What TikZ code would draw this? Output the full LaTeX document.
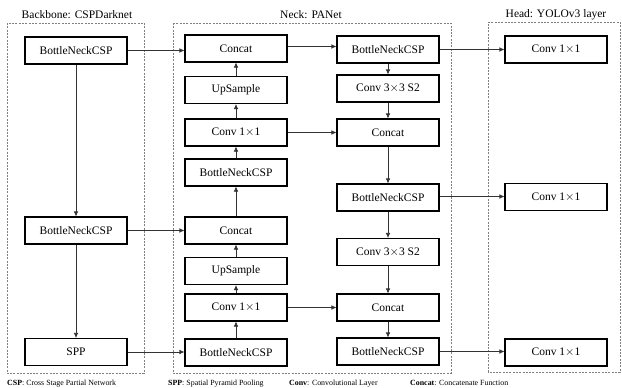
\documentclass[tikz,border=0pt]{standalone}
\usepackage{fontspec}
\setmainfont{Liberation Serif}
\usetikzlibrary{arrows.meta,calc}

\begin{document}
\begin{tikzpicture}[x=1pt,y=-1pt,
    blk/.style={draw,line width=1.1pt,minimum width=102pt,minimum height=27pt,inner sep=0pt,font=\fontsize{11.5}{13}\selectfont},
    grp/.style={draw=gray,line width=0.7pt,dash pattern=on 2pt off 1.3pt},
    ttl/.style={font=\fontsize{11.5}{13}\selectfont},
    legend/.style={font=\fontsize{7.9}{9}\selectfont,anchor=base west,inner sep=0pt},
    arr/.style={-{Latex[length=5pt,width=4.5pt]},line width=0.6pt,draw=black!80}]
            \useasboundingbox (0,0) rectangle (622,388);
            % groups
            \draw[grp] (7,23) rectangle (144,373);
            \draw[grp] (173,23) rectangle (451,373);
            \draw[grp] (488,22) -- (620,22) -- (620,372) -- (488,372) -- cycle;
            \node[ttl] (tb) at (77,15) {Backbone: CSPDarknet};
            \node[ttl] (tn) at (311,15) {Neck: PANet};
            \node[ttl] (th) at (556,15) {Head: YOLOv3 layer};
            % backbone
            \node[blk] (b1) at (76,50.5) {BottleNeckCSP};
            \node[blk] (b2) at (76,230.5) {BottleNeckCSP};
            \node[blk] (spp) at (76,352) {SPP};
            % neck, up path
            \node[blk] (cat1) at (236,48.5) {Concat};
            \node[blk] (up1) at (236,90) {UpSample};
            \node[blk] (cv1) at (236,132.5) {Conv 1$\times$1};
            \node[blk] (bn1) at (236,172.5) {BottleNeckCSP};
            \node[blk] (cat2) at (236,230.5) {Concat};
            \node[blk] (up2) at (236,271) {UpSample};
            \node[blk] (cv2) at (236,307.5) {Conv 1$\times$1};
            \node[blk] (bn2) at (236,352.5) {BottleNeckCSP};
            % neck, down path
            \node[blk] (rb1) at (388,49.5) {BottleNeckCSP};
            \node[blk] (rc1) at (388,88.5) {Conv 3$\times$3 S2};
            \node[blk] (rcat1) at (388,132.5) {Concat};
            \node[blk] (rb2) at (388,197.5) {BottleNeckCSP};
            \node[blk] (rc2) at (388,252) {Conv 3$\times$3 S2};
            \node[blk] (rcat2) at (388,307.5) {Concat};
            \node[blk] (rb3) at (388,351.5) {BottleNeckCSP};
            % head
            \node[blk] (h1) at (556,49.5) {Conv 1$\times$1};
            \node[blk] (h2) at (556,197) {Conv 1$\times$1};
            \node[blk] (h3) at (556,352.5) {Conv 1$\times$1};
            % backbone links
            \draw[arr] (b1) -- (b2);
            \draw[arr] (b2) -- (spp);
            \draw[arr] (b1.east) -- (b1.east -| cat1.west);
            \draw[arr] (b2.east) -- (b2.east -| cat2.west);
            \draw[arr] (spp.east) -- (spp.east -| bn2.west);
            % up path
            \draw[arr] (bn2) -- (cv2);
            \draw[arr] (cv2) -- (up2);
            \draw[arr] (up2) -- (cat2);
            \draw[arr] (cat2) -- (bn1);
            \draw[arr] (bn1) -- (cv1);
            \draw[arr] (cv1) -- (up1);
            \draw[arr] (up1) -- (cat1);
            % down path
            \draw[arr] ($(cat1.east)+(0,-2)$) -- ($(cat1.east -| rb1.west)+(0,-2)$);
            \draw[arr] (rb1) -- (rc1);
            \draw[arr] (rc1) -- (rcat1);
            \draw[arr] (rcat1) -- (rb2);
            \draw[arr] (rb2) -- (rc2);
            \draw[arr] (rc2) -- (rcat2);
            \draw[arr] (rcat2) -- (rb3);
            \draw[arr] (cv1.east) -- (cv1.east -| rcat1.west);
            \draw[arr] (cv2.east) -- (cv2.east -| rcat2.west);
            % to head
            \draw[arr] (rb1.east) -- (rb1.east -| h1.west);
            \draw[arr] ($(rb2.east)+(0,-1)$) -- ($(rb2.east -| h2.west)+(0,-1)$);
            \draw[arr] (rb3.east) -- (rb3.east -| h3.west);
            % legend
            \node[legend] (l1) at (7,385) {\textbf{CSP}: Cross Stage Partial Network};
            \node[legend] (l2) at (168,385) {\textbf{SPP}: Spatial Pyramid Pooling};
            \node[legend] (l3) at (289,385) {\textbf{Conv}: Convolutional Layer};
            \node[legend] (l4) at (410,385) {\textbf{Concat}: Concatenate Function};
          \end{tikzpicture}
\end{document}
